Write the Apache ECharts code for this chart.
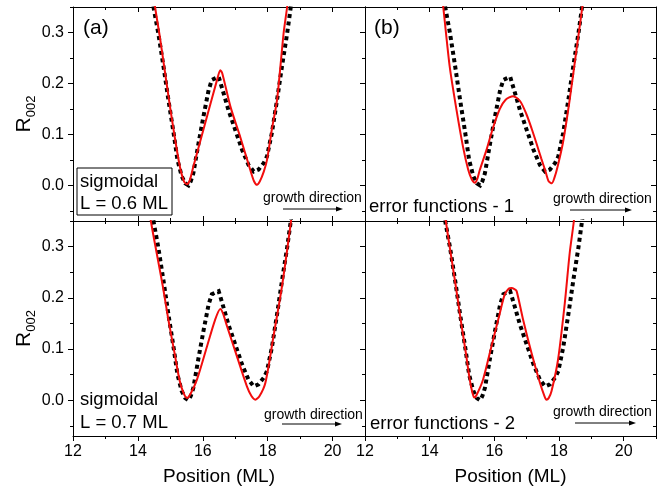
<!DOCTYPE html>
<html><head><meta charset="utf-8">
<script src="https://cdn.jsdelivr.net/npm/echarts@6/dist/echarts.min.js"></script>
<style>html,body{margin:0;padding:0;background:#fff}#c{width:665px;height:487px}</style>
</head><body><div id="c"></div>
<script>
// ---- data ----
const xLabelValues = [12, 14, 16, 18, 20];
const xMinorTicks = [13, 15, 17, 19, 21];
const yLabelValues = [0, 0.1, 0.2, 0.3];
const yMinorTicks = [-0.05, 0.05, 0.15, 0.25, 0.35];

// measured profile (black dotted) - same in all panels
const blackX = [14.40, 14.48, 14.63, 14.79, 14.94, 15.10, 15.22, 15.35, 15.46, 15.56, 15.63, 15.71, 15.87, 16.02, 16.18, 16.28, 16.38, 16.49, 16.64, 16.79, 17.00, 17.21, 17.41, 17.57, 17.72, 17.88, 17.98, 18.13, 18.29, 18.44, 18.60, 18.70, 18.75];
const blackY = [0.38, 0.350, 0.298, 0.233, 0.168, 0.103, 0.050, 0.018, 0.004, 0.000, 0.008, 0.024, 0.083, 0.135, 0.187, 0.207, 0.210, 0.213, 0.181, 0.148, 0.109, 0.070, 0.040, 0.027, 0.031, 0.044, 0.057, 0.103, 0.168, 0.233, 0.298, 0.344, 0.37];

// (a) sigmoidal L = 0.6 ML
const redA_X = [14.48, 14.53, 14.68, 14.84, 15.00, 15.16, 15.30, 15.42, 15.51, 15.60, 15.71, 16.13, 16.44, 16.54, 16.60, 16.85, 17.15, 17.46, 17.58, 17.67, 17.76, 17.88, 17.98, 18.13, 18.29, 18.49, 18.60, 18.65];
const redA_Y = [0.38, 0.35, 0.29, 0.22, 0.15, 0.085, 0.035, 0.008, 0.002, 0.010, 0.037, 0.135, 0.207, 0.226, 0.220, 0.155, 0.096, 0.031, 0.008, 0.001, 0.008, 0.027, 0.05, 0.11, 0.168, 0.298, 0.35, 0.38];
// (b) error functions - 1
const redB_X = [14.36, 14.42, 14.62, 14.83, 15.03, 15.19, 15.30, 15.40, 15.47, 15.55, 15.76, 15.96, 16.17, 16.35, 16.58, 16.80, 16.99, 17.15, 17.30, 17.45, 17.58, 17.68, 17.78, 17.86, 17.95, 18.12, 18.33, 18.54, 18.72, 18.76];
const redB_Y = [0.38, 0.35, 0.233, 0.148, 0.076, 0.031, 0.012, 0.005, 0.012, 0.030, 0.070, 0.113, 0.150, 0.168, 0.175, 0.165, 0.140, 0.112, 0.083, 0.053, 0.028, 0.008, 0.004, 0.015, 0.035, 0.083, 0.168, 0.266, 0.35, 0.38];
// (c) sigmoidal L = 0.7 ML
const redC_X = [14.34, 14.40, 14.58, 14.77, 14.94, 15.13, 15.28, 15.40, 15.51, 15.62, 15.82, 16.13, 16.38, 16.54, 16.62, 16.75, 17.05, 17.36, 17.50, 17.62, 17.75, 17.93, 18.18, 18.44, 18.72, 18.77];
const redC_Y = [0.38, 0.35, 0.287, 0.222, 0.157, 0.092, 0.040, 0.015, 0.004, 0.012, 0.040, 0.105, 0.157, 0.178, 0.170, 0.144, 0.086, 0.027, 0.008, 0.001, 0.008, 0.034, 0.125, 0.222, 0.35, 0.38];
// (d) error functions - 2
const redD_X = [14.45, 14.50, 14.65, 14.81, 14.96, 15.12, 15.24, 15.32, 15.38, 15.45, 15.65, 15.91, 16.17, 16.32, 16.45, 16.53, 16.62, 16.69, 16.89, 17.15, 17.41, 17.55, 17.61, 17.68, 17.77, 17.97, 18.18, 18.33, 18.46, 18.50];
const redD_Y = [0.38, 0.35, 0.287, 0.222, 0.157, 0.092, 0.040, 0.015, 0.005, 0.010, 0.040, 0.105, 0.170, 0.206, 0.218, 0.219, 0.217, 0.213, 0.157, 0.092, 0.034, 0.008, 0.001, 0.004, 0.018, 0.079, 0.190, 0.287, 0.35, 0.38];

const panelLabels = ['(a)', '(b)', '', ''];
const panelNotes = [['sigmoidal', 'L = 0.6 ML'], ['error functions - 1'], ['sigmoidal', 'L = 0.7 ML'], ['error functions - 2']];
const growthText = 'growth direction';
const xName = 'Position (ML)';

// ---- layout ----
const FONT = '"Liberation Sans", Arial, sans-serif';
const grids = [
  {left: 73, top: 7, width: 292, height: 214},
  {left: 365, top: 7, width: 291, height: 214},
  {left: 73, top: 221, width: 292, height: 216},
  {left: 365, top: 221, width: 291, height: 216}
];
const zip = (a, b) => a.map((v, i) => [v, b[i]]);
const redSets = [[redA_X, redA_Y], [redB_X, redB_Y], [redC_X, redC_Y], [redD_X, redD_Y]];

const xAxes = [], yAxes = [], series = [];
grids.forEach((g, gi) => {
  const isBottomRow = gi >= 2, isLeftCol = gi % 2 === 0;
  const mkX = (pos, major, inside, labels) => ({
    type: 'value', gridIndex: gi, position: pos, min: 12, max: 21,
    axisLine: {show: major, onZero: false, lineStyle: {color: '#000', width: 1}},
    axisTick: {show: true, inside: inside, length: major ? 5 : 3, customValues: major ? xLabelValues : xMinorTicks, lineStyle: {color: '#000', width: 1}},
    axisLabel: {show: labels, customValues: xLabelValues, color: '#000', fontFamily: FONT, fontSize: 16, margin: 8},
    splitLine: {show: false},
    name: labels ? xName : '', nameLocation: 'middle', nameGap: 31,
    nameTextStyle: {color: '#000', fontFamily: FONT, fontSize: 19}
  });
  const mkY = (pos, major, inside, labels) => ({
    type: 'value', gridIndex: gi, position: pos, min: -0.07, max: 0.35,
    axisLine: {show: major, onZero: false, lineStyle: {color: '#000', width: 1}},
    axisTick: {show: true, inside: inside, length: major ? 5 : 3, customValues: major ? yLabelValues : yMinorTicks, lineStyle: {color: '#000', width: 1}},
    axisLabel: {show: labels, customValues: yLabelValues, color: '#000', fontFamily: FONT, fontSize: 16, margin: 9, formatter: v => v.toFixed(1)},
    splitLine: {show: false},
    name: labels ? '{r|R}{s|002}' : '', nameLocation: 'middle', nameGap: 34, nameRotate: 90,
    nameTextStyle: {color: '#000', fontFamily: FONT, rich: {
      r: {fontSize: 21, fontFamily: FONT, color: '#000', lineHeight: 28},
      s: {fontSize: 13, fontFamily: FONT, color: '#000', verticalAlign: 'bottom'}
    }}
  });
  xAxes.push(mkX('bottom', true, !isBottomRow, isBottomRow));
  xAxes.push(mkX('bottom', false, !isBottomRow, false));
  xAxes.push(mkX('top', true, true, false));
  xAxes.push(mkX('top', false, true, false));
  yAxes.push(mkY('left', true, false, isLeftCol));
  yAxes.push(mkY('left', false, false, false));
  yAxes.push(mkY('right', true, true, false));
  yAxes.push(mkY('right', false, true, false));

  series.push({
    type: 'line', xAxisIndex: gi * 4, yAxisIndex: gi * 4, data: zip(blackX, blackY),
    symbol: 'none', smooth: false, clip: true, z: 2,
    lineStyle: {color: '#000', width: 4, type: [4, 3.5], cap: 'butt', join: 'miter'}
  });
  series.push({
    type: 'line', xAxisIndex: gi * 4, yAxisIndex: gi * 4, data: zip(redSets[gi][0], redSets[gi][1]),
    symbol: 'none', smooth: 0.25, clip: true, z: 3,
    lineStyle: {color: '#f20d0d', width: 2}
  });
});

// annotations
const graphic = [];
const txt = (x, y, s, fs, extra) => Object.assign({type: 'text', z: 10, style: {x: x, y: y, text: s, font: fs + 'px ' + FONT, fill: '#000', verticalAlign: 'middle'}}, extra || {});
graphic.push(txt(83, 28.5, panelLabels[0], 21));
graphic.push(txt(374, 28.5, panelLabels[1], 21));
graphic.push({type: 'rect', z: 9, shape: {x: 77, y: 168, width: 95, height: 47}, style: {fill: '#fff', stroke: '#000', lineWidth: 1}});
graphic.push(txt(80, 182, panelNotes[0][0], 18.5));
graphic.push(txt(80, 204.3, panelNotes[0][1], 18.5));
graphic.push(txt(80, 399.6, panelNotes[2][0], 18.5));
graphic.push(txt(80, 422.6, panelNotes[2][1], 18.5));
graphic.push(txt(369, 206.9, panelNotes[1][0], 18.5));
graphic.push(txt(370, 423.6, panelNotes[3][0], 18.5));
const growth = [[263, 198, 283, 343, 209], [553, 199, 570, 632, 210], [264, 415, 282, 342, 424], [553, 412, 575, 636, 423]];
growth.forEach(([tx, ty, ax0, ax1, ay]) => {
  graphic.push(txt(tx, ty, growthText, 14));
  graphic.push({type: 'line', z: 10, shape: {x1: ax0, y1: ay, x2: ax1 - 5, y2: ay}, style: {stroke: '#000', lineWidth: 1}});
  graphic.push({type: 'polygon', z: 10, shape: {points: [[ax1, ay], [ax1 - 7, ay - 2.5], [ax1 - 7, ay + 2.5]]}, style: {fill: '#000'}});
});

const chart = echarts.init(document.getElementById('c'), null, {renderer: 'canvas'});
chart.setOption({
  animation: false,
  backgroundColor: '#fff',
  grid: grids.map(g => Object.assign({containLabel: false}, g)),
  xAxis: xAxes,
  yAxis: yAxes,
  series: series,
  graphic: graphic
});
</script></body></html>
